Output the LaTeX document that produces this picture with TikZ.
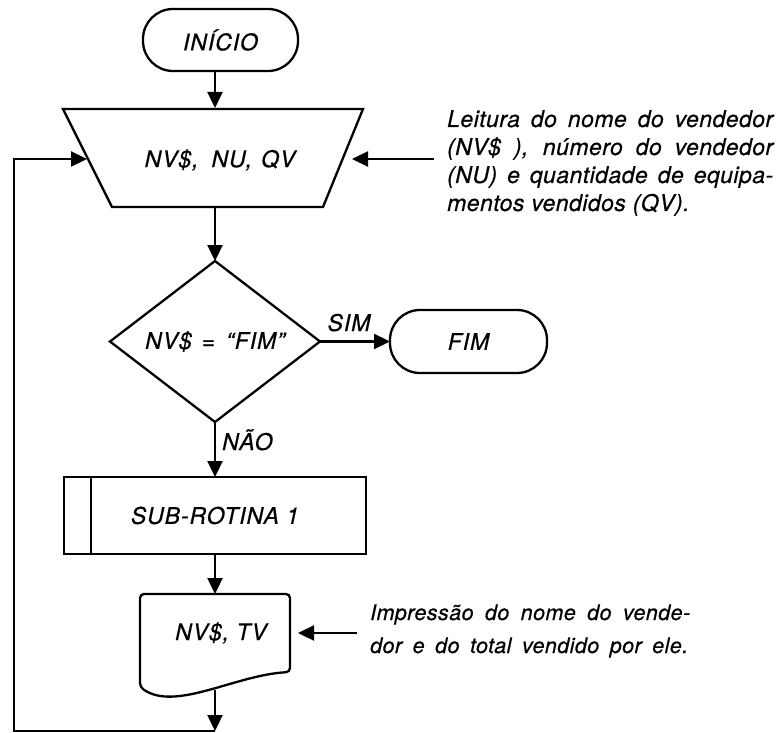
\documentclass[tikz,border=0pt]{standalone}
\usepackage{fontspec}
\setmainfont{TeX Gyre Heros}
\newfontfamily\flowfont[LetterSpace=4,FakeBold=0.5]{TeX Gyre Heros}
\newfontfamily\annfont[LetterSpace=2,FakeBold=0.5]{TeX Gyre Heros}
\newfontfamily\annfontb[LetterSpace=2,FakeBold=0.5]{TeX Gyre Heros}
\usetikzlibrary{shapes.geometric,arrows.meta}
\begin{document}
\begin{tikzpicture}[x=1pt,y=-1pt,
  line/.style={line width=2.3pt},
  arr/.style={line width=2.3pt,-{Triangle[length=16pt,width=15pt]}},
  shp/.style={draw, line width=2.3pt, outer sep=0pt},
  lab/.style={font=\flowfont\itshape\fontsize{23}{27}\selectfont, inner sep=0pt},
  ]
\useasboundingbox (0,0) rectangle (776,733);

% start terminal
\node[shp, lab, rounded corners=30pt, minimum width=155pt, minimum height=62pt] (inicio) at (220.5,40) {INÍCIO};

% input trapezoid
\coordinate (tTL) at (63,109);
\coordinate (tTR) at (363,109);
\coordinate (tBR) at (323,207);
\coordinate (tBL) at (112,207);
\draw[line, line join=miter] (tTL) -- (tTR) -- (tBR) -- (tBL) -- cycle;
\node[lab] (trap) at (220,160) {NV\$,\hspace{13pt}NU,\hspace{9pt}QV};
\coordinate (trapT) at (215,108);
\coordinate (trapB) at (215,207);
\coordinate (trapL) at (87,159);
\coordinate (trapR) at (352,159);
\draw[arr] (inicio.south -| trapT) -- (trapT);

% decision
\node[shp, lab, diamond, aspect=1.3, minimum width=210pt, minimum height=161pt] (dia) at (215,341.5) {NV\$\hspace{10pt}=\hspace{11pt}“FIM”};
\draw[arr] (trapB) -- (dia.north);

% end terminal
\node[shp, lab, rounded corners=30pt, minimum width=157pt, minimum height=63pt] (fim) at (468.5,341.5) {FIM};
\draw[arr] (dia.east) -- (fim.west);
\node[lab, anchor=base] (sim) at (349,331) {SIM};

% subroutine
\node[shp, lab, minimum width=302pt, minimum height=77pt] (sub) at (215,515.5) {SUB-ROTINA 1};
\draw[line] ([xshift=27pt]sub.north west) -- ([xshift=27pt]sub.south west);
\draw[arr] (dia.south) -- (sub.north);
\node[lab, anchor=base west] (nao) at (222,450) {NÃO};

% document
\coordinate (dTL) at (140,594);
\coordinate (dTR) at (290,594);
\coordinate (dBR) at (290,672);
\coordinate (dBL) at (140,687);
\draw[line, rounded corners=4pt] (dBL) -- (dTL) -- (dTR) -- (dBR) .. controls (235,675) and (175,712) .. (dBL) -- cycle;
\node[lab] (doc) at (221,633) {NV\$, TV};
\coordinate (docT) at (215,594);
\coordinate (docB) at (215,690);
\coordinate (docR) at (298,633);
\draw[arr] (sub.south) -- (docT);

% loop back
\coordinate (loopB) at (215,731);
\coordinate (loopL) at (14,731);
\draw[arr] (docB) -- (loopB);
\draw[arr] (loopB) -- (loopL) |- (trapL);

% annotations
\node[anchor=base west, inner sep=0pt, font=\annfont\itshape\fontsize{23}{28}\selectfont] (ann1) at (447,127)
  {\vtop{\baselineskip=28pt
   \hbox to 326pt{Leitura do nome do vendedor}
   \hbox to 326pt{(NV\$ ), número do vendedor}
   \hbox to 326pt{(NU) e quantidade de equipa-}
   \hbox{mentos vendidos (QV).}}};
\coordinate (a1s) at ([xshift=-13pt]ann1.west);
\draw[arr] (a1s |- trapR) -- (trapR);

\node[anchor=base west, inner sep=0pt, font=\annfontb\itshape\fontsize{21.5}{33}\selectfont] (ann2) at (370,620)
  {\vtop{\baselineskip=33pt
   \hbox to 320pt{Impressão do nome do vende-}
   \hbox to 318pt{dor e do total vendido por ele.}}};
\coordinate (a2s) at ([xshift=-13pt]ann2.west);
\draw[arr] (a2s |- docR) -- (docR);
\end{tikzpicture}
\end{document}
